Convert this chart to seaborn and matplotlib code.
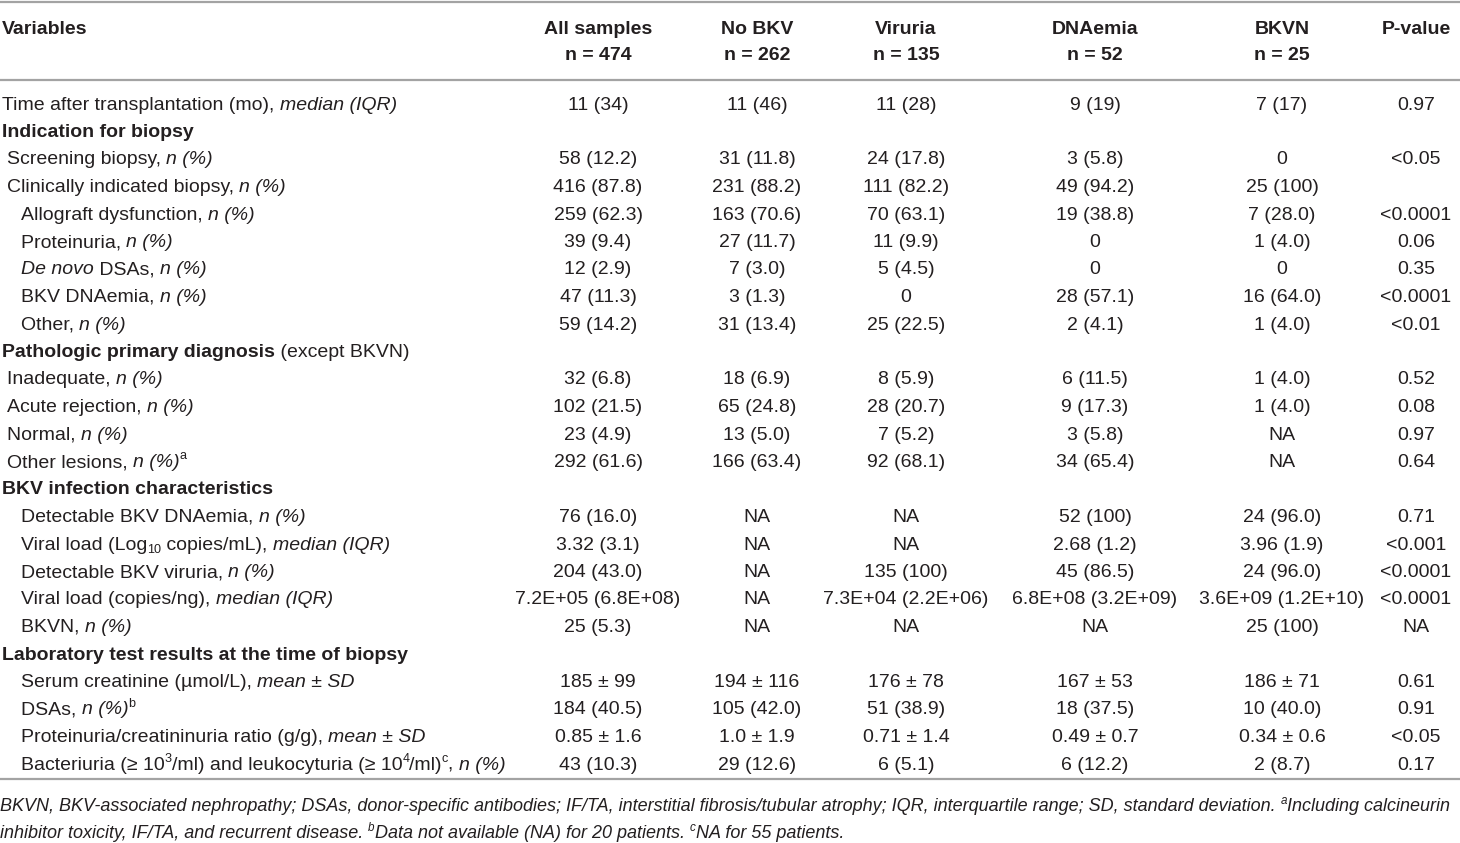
import re
import matplotlib
matplotlib.use("Agg")
import matplotlib.pyplot as plt
from matplotlib import font_manager
import seaborn as sns

# ---- table content ----
col_titles = ["All samples", "No BKV", "Viruria", "DNAemia", "BKVN", "P-value"]
col_counts = ["n = 474", "n = 262", "n = 135", "n = 52", "n = 25", ""]

# markup: **bold**, *italic*, ^{sup}, _{sub}; level = indent level
row_labels = [
    "Time after transplantation (mo), *median (IQR)*",
    "**Indication for biopsy**",
    "Screening biopsy, *n (%)*",
    "Clinically indicated biopsy, *n (%)*",
    "Allograft dysfunction, *n (%)*",
    "Proteinuria, *n (%)*",
    "*De novo* DSAs, *n (%)*",
    "BKV DNAemia, *n (%)*",
    "Other, *n (%)*",
    "**Pathologic primary diagnosis** (except BKVN)",
    "Inadequate, *n (%)*",
    "Acute rejection, *n (%)*",
    "Normal, *n (%)*",
    "Other lesions, *n (%)*^{a}",
    "**BKV infection characteristics**",
    "Detectable BKV DNAemia, *n (%)*",
    "Viral load (Log_{10} copies/mL), *median (IQR)*",
    "Detectable BKV viruria, *n (%)*",
    "Viral load (copies/ng), *median (IQR)*",
    "BKVN, *n (%)*",
    "**Laboratory test results at the time of biopsy**",
    "Serum creatinine (\u00b5mol/L), *mean \u00b1 SD*",
    "DSAs, *n (%)*^{b}",
    "Proteinuria/creatininuria ratio (g/g), *mean \u00b1 SD*",
    "Bacteriuria (\u2265 10^{3}/ml) and leukocyturia (\u2265 10^{4}/ml)^{c}, *n (%)*",
]
row_levels = [0, 0, 1, 1, 2, 2, 2, 2, 2, 0, 1, 1, 1, 1, 0,
              2, 2, 2, 2, 2, 0, 2, 2, 2, 2]

all_samples = ["11 (34)", "", "58 (12.2)", "416 (87.8)", "259 (62.3)", "39 (9.4)",
               "12 (2.9)", "47 (11.3)", "59 (14.2)", "", "32 (6.8)", "102 (21.5)",
               "23 (4.9)", "292 (61.6)", "", "76 (16.0)", "3.32 (3.1)", "204 (43.0)",
               "7.2E+05 (6.8E+08)", "25 (5.3)", "", "185 \u00b1 99", "184 (40.5)",
               "0.85 \u00b1 1.6", "43 (10.3)"]
no_bkv = ["11 (46)", "", "31 (11.8)", "231 (88.2)", "163 (70.6)", "27 (11.7)",
          "7 (3.0)", "3 (1.3)", "31 (13.4)", "", "18 (6.9)", "65 (24.8)",
          "13 (5.0)", "166 (63.4)", "", "NA", "NA", "NA", "NA", "NA", "",
          "194 \u00b1 116", "105 (42.0)", "1.0 \u00b1 1.9", "29 (12.6)"]
viruria = ["11 (28)", "", "24 (17.8)", "111 (82.2)", "70 (63.1)", "11 (9.9)",
           "5 (4.5)", "0", "25 (22.5)", "", "8 (5.9)", "28 (20.7)", "7 (5.2)",
           "92 (68.1)", "", "NA", "NA", "135 (100)", "7.3E+04 (2.2E+06)", "NA", "",
           "176 \u00b1 78", "51 (38.9)", "0.71 \u00b1 1.4", "6 (5.1)"]
dnaemia = ["9 (19)", "", "3 (5.8)", "49 (94.2)", "19 (38.8)", "0", "0",
           "28 (57.1)", "2 (4.1)", "", "6 (11.5)", "9 (17.3)", "3 (5.8)",
           "34 (65.4)", "", "52 (100)", "2.68 (1.2)", "45 (86.5)",
           "6.8E+08 (3.2E+09)", "NA", "", "167 \u00b1 53", "18 (37.5)",
           "0.49 \u00b1 0.7", "6 (12.2)"]
bkvn = ["7 (17)", "", "0", "25 (100)", "7 (28.0)", "1 (4.0)", "0", "16 (64.0)",
        "1 (4.0)", "", "1 (4.0)", "1 (4.0)", "NA", "NA", "", "24 (96.0)",
        "3.96 (1.9)", "24 (96.0)", "3.6E+09 (1.2E+10)", "25 (100)", "",
        "186 \u00b1 71", "10 (40.0)", "0.34 \u00b1 0.6", "2 (8.7)"]
p_values = ["0.97", "", "<0.05", "", "<0.0001", "0.06", "0.35", "<0.0001", "<0.01",
            "", "0.52", "0.08", "0.97", "0.64", "", "0.71", "<0.001", "<0.0001",
            "<0.0001", "NA", "", "0.61", "0.91", "<0.05", "0.17"]

footnotes = [
    "BKVN, BKV-associated nephropathy; DSAs, donor-specific antibodies; IF/TA, "
    "interstitial fibrosis/tubular atrophy; IQR, interquartile range; SD, standard "
    "deviation. ^{a}Including calcineurin",
    "inhibitor toxicity, IF/TA, and recurrent disease. ^{b}Data not available (NA) "
    "for 20 patients. ^{c}NA for 55 patients.",
]

# ---- layout ----
W, H = 1460, 843
col_x = [598, 757, 906, 1095, 1282, 1416]
indent_x = [2, 7, 21]
row_y0, row_dy = 103, 27.5
baseline_off = 6.5
FS = 14.0
TEXT = "#231f20"
RULE = "#a3a3a3"

sns.set_theme(style="white")
names = {f.name for f in font_manager.fontManager.ttflist}
FONT = "Liberation Sans Narrow" if "Liberation Sans Narrow" in names else "Liberation Sans"
plt.rcParams["font.family"] = [FONT, "DejaVu Sans"]

fig = plt.figure(figsize=(W / 100, H / 100), dpi=100)
ax = fig.add_axes([0, 0, 1, 1])
ax.set_xlim(0, W)
ax.set_ylim(H, 0)
ax.axis("off")
renderer = fig.canvas.get_renderer()


def parse(markup):
    runs = []
    for tok in re.split(r"(\*\*.+?\*\*|\*.+?\*|\^\{.+?\}|_\{.+?\})", markup):
        if not tok:
            continue
        if tok.startswith("**"):
            runs.append((tok[2:-2], "bold"))
        elif tok.startswith("*"):
            runs.append((tok[1:-1], "italic"))
        elif tok.startswith("^{"):
            runs.append((tok[2:-1], "sup"))
        elif tok.startswith("_{"):
            runs.append((tok[2:-1], "sub"))
        else:
            runs.append((tok, "normal"))
    return runs


def run_style(kind, fs, base_italic):
    kw = dict(fontsize=fs, fontweight="normal",
              fontstyle="italic" if base_italic else "normal")
    dy = 0.0
    if kind == "bold":
        kw["fontweight"] = "bold"
    elif kind == "italic":
        kw["fontstyle"] = "italic"
    elif kind == "sup":
        kw["fontsize"] = fs * 0.65
        dy = -fs * 100 / 72 * 0.40
    elif kind == "sub":
        kw["fontsize"] = fs * 0.65
        dy = fs * 100 / 72 * 0.18
    return kw, dy


def width_of(s, **kw):
    # measure with guard bars so leading/trailing spaces count
    a = ax.text(0, 0, "|" + s + "|", **kw)
    b = ax.text(0, 0, "||", **kw)
    w = a.get_window_extent(renderer).width - b.get_window_extent(renderer).width
    a.remove()
    b.remove()
    return w


def draw_rich(x, y, markup, fs=FS, ha="left", base_italic=False):
    runs = parse(markup)
    styled = [(s,) + run_style(k, fs, base_italic) for s, k in runs]
    widths = [width_of(s, **kw) for s, kw, _ in styled]
    if ha == "center":
        x = x - sum(widths) / 2
    for (s, kw, dy), w in zip(styled, widths):
        ax.text(x, y + dy, s, va="baseline", ha="left", color=TEXT, **kw)
        x += w


# rules
for y in (1.5, 80, 779):
    ax.axhline(y, color=RULE, lw=1.6)

# header
draw_rich(2, 34, "**Variables**")
for cx, title, count in zip(col_x, col_titles, col_counts):
    ax.text(cx, 34, title, ha="center", va="baseline", fontsize=FS,
            fontweight="bold", color=TEXT)
    if count:
        ax.text(cx, 60, count, ha="center", va="baseline", fontsize=FS,
                fontweight="bold", color=TEXT)

# body
columns = [all_samples, no_bkv, viruria, dnaemia, bkvn, p_values]
for i, (label, level) in enumerate(zip(row_labels, row_levels)):
    yb = row_y0 + i * row_dy + baseline_off
    draw_rich(indent_x[level], yb, label)
    for cx, col in zip(col_x, columns):
        if col[i]:
            ax.text(cx, yb, col[i], ha="center", va="baseline", fontsize=FS,
                    color=TEXT)

# footnotes
for j, note in enumerate(footnotes):
    draw_rich(0, 811 + j * 27, note, fs=FS * 0.925, base_italic=True)

fig.savefig("out.png", dpi=100, facecolor="white")
